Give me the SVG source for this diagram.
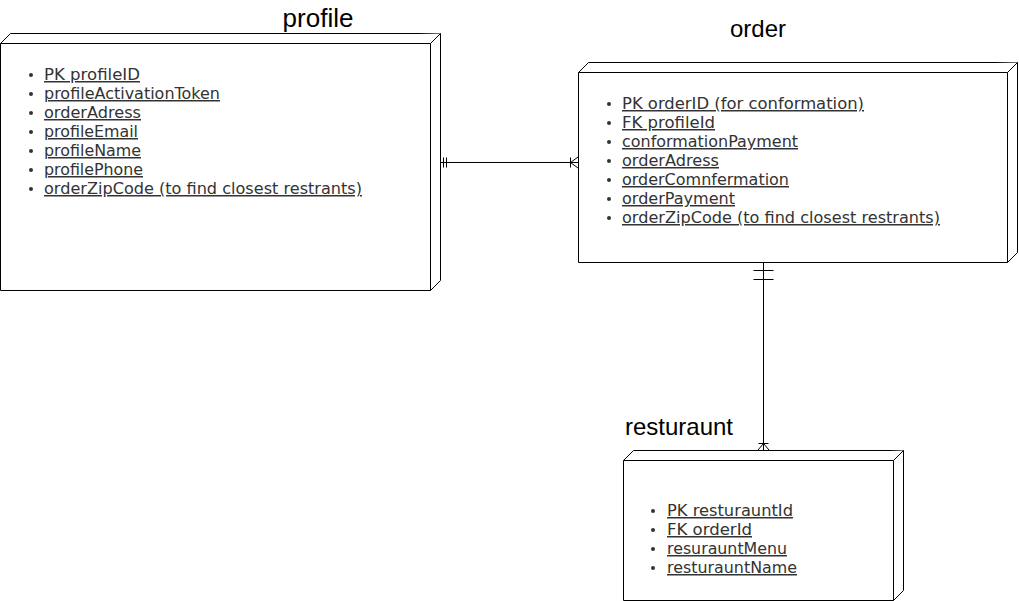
<svg xmlns="http://www.w3.org/2000/svg" width="1019" height="601" viewBox="0 0 1019 601">
<style>
.box{fill:#fff;stroke:#000;stroke-width:1}
.title{font-family:"Liberation Sans",Arial,sans-serif;fill:#000}
.item{font-family:"DejaVu Sans",Verdana,sans-serif;font-size:15px;fill:#333;text-decoration:underline}
.bul{fill:#333}
.con{stroke:#000;stroke-width:1;fill:none}
</style>
<rect width="1019" height="601" fill="#fff"/>
<g id="profile">
<path class="box" d="M0.5,43.5 L10.5,33.5 L440.5,33.5 L440.5,280.5 L430.5,290.5 L0.5,290.5 Z"/>
<path class="box" d="M0.5,43.5 L430.5,43.5 L440.5,33.5 M430.5,43.5 L430.5,290.5"/>
<text class="title" x="318" y="27" font-size="26" text-anchor="middle">profile</text>
<g class="bul"><circle cx="31" cy="75" r="2"/><circle cx="31" cy="94" r="2"/><circle cx="31" cy="113" r="2"/><circle cx="31" cy="132" r="2"/><circle cx="31" cy="151" r="2"/><circle cx="31" cy="170" r="2"/><circle cx="31" cy="189" r="2"/></g>
<text class="item" x="44" y="80" textLength="96" lengthAdjust="spacingAndGlyphs">PK profileID</text>
<text class="item" x="44" y="99" textLength="176" lengthAdjust="spacingAndGlyphs">profileActivationToken</text>
<text class="item" x="44" y="118" textLength="97" lengthAdjust="spacingAndGlyphs">orderAdress</text>
<text class="item" x="44" y="137" textLength="94" lengthAdjust="spacingAndGlyphs">profileEmail</text>
<text class="item" x="44" y="156" textLength="97" lengthAdjust="spacingAndGlyphs">profileName</text>
<text class="item" x="44" y="175" textLength="99" lengthAdjust="spacingAndGlyphs">profilePhone</text>
<text class="item" x="44" y="194" textLength="318" lengthAdjust="spacingAndGlyphs">orderZipCode (to find closest restrants)</text>
</g>
<g id="order">
<path class="box" d="M578.5,72.5 L588.5,62.5 L1017.5,62.5 L1017.5,252.5 L1007.5,262.5 L578.5,262.5 Z"/>
<path class="box" d="M578.5,72.5 L1007.5,72.5 L1017.5,62.5 M1007.5,72.5 L1007.5,262.5"/>
<text class="title" x="758" y="37" font-size="24" text-anchor="middle">order</text>
<g class="bul"><circle cx="609" cy="104" r="2"/><circle cx="609" cy="123" r="2"/><circle cx="609" cy="142" r="2"/><circle cx="609" cy="161" r="2"/><circle cx="609" cy="180" r="2"/><circle cx="609" cy="199" r="2"/><circle cx="609" cy="218" r="2"/></g>
<text class="item" x="622" y="109" textLength="242" lengthAdjust="spacingAndGlyphs">PK orderID (for conformation)</text>
<text class="item" x="622" y="128" textLength="93" lengthAdjust="spacingAndGlyphs">FK profileId</text>
<text class="item" x="622" y="147" textLength="176" lengthAdjust="spacingAndGlyphs">conformationPayment</text>
<text class="item" x="622" y="166" textLength="97" lengthAdjust="spacingAndGlyphs">orderAdress</text>
<text class="item" x="622" y="185" textLength="167" lengthAdjust="spacingAndGlyphs">orderComnfermation</text>
<text class="item" x="622" y="204" textLength="113" lengthAdjust="spacingAndGlyphs">orderPayment</text>
<text class="item" x="622" y="223" textLength="318" lengthAdjust="spacingAndGlyphs">orderZipCode (to find closest restrants)</text>
</g>
<g id="resturaunt">
<path class="box" d="M623.5,460.5 L633.5,450.5 L903.5,450.5 L903.5,590.5 L893.5,600.5 L623.5,600.5 Z"/>
<path class="box" d="M623.5,460.5 L893.5,460.5 L903.5,450.5 M893.5,460.5 L893.5,600.5"/>
<text class="title" x="679" y="435" font-size="24" text-anchor="middle">resturaunt</text>
<g class="bul"><circle cx="653" cy="511" r="2"/><circle cx="653" cy="530" r="2"/><circle cx="653" cy="549" r="2"/><circle cx="653" cy="568" r="2"/></g>
<text class="item" x="667" y="516" textLength="126" lengthAdjust="spacingAndGlyphs">PK resturauntId</text>
<text class="item" x="667" y="535" textLength="85" lengthAdjust="spacingAndGlyphs">FK orderId</text>
<text class="item" x="667" y="554" textLength="120" lengthAdjust="spacingAndGlyphs">resurauntMenu</text>
<text class="item" x="667" y="573" textLength="130" lengthAdjust="spacingAndGlyphs">resturauntName</text>
</g>
<g id="connectors">
<path class="con" d="M440.5,162.5 L578,162.5"/>
<path class="con" d="M443.5,157.5 L443.5,167.5 M446.5,157.5 L446.5,167.5"/>
<path class="con" d="M570.5,157.5 L570.5,167.5 M570.5,162.5 L578,157 M570.5,162.5 L578,168"/>
<path class="con" d="M763.5,262.5 L763.5,450"/>
<path class="con" d="M753.5,270.5 L773.5,270.5 M753.5,279.5 L773.5,279.5"/>
<path class="con" d="M758.5,443.5 L768.5,443.5 M763.5,443.5 L758,450 M763.5,443.5 L769,450"/>
</g>
</svg>
